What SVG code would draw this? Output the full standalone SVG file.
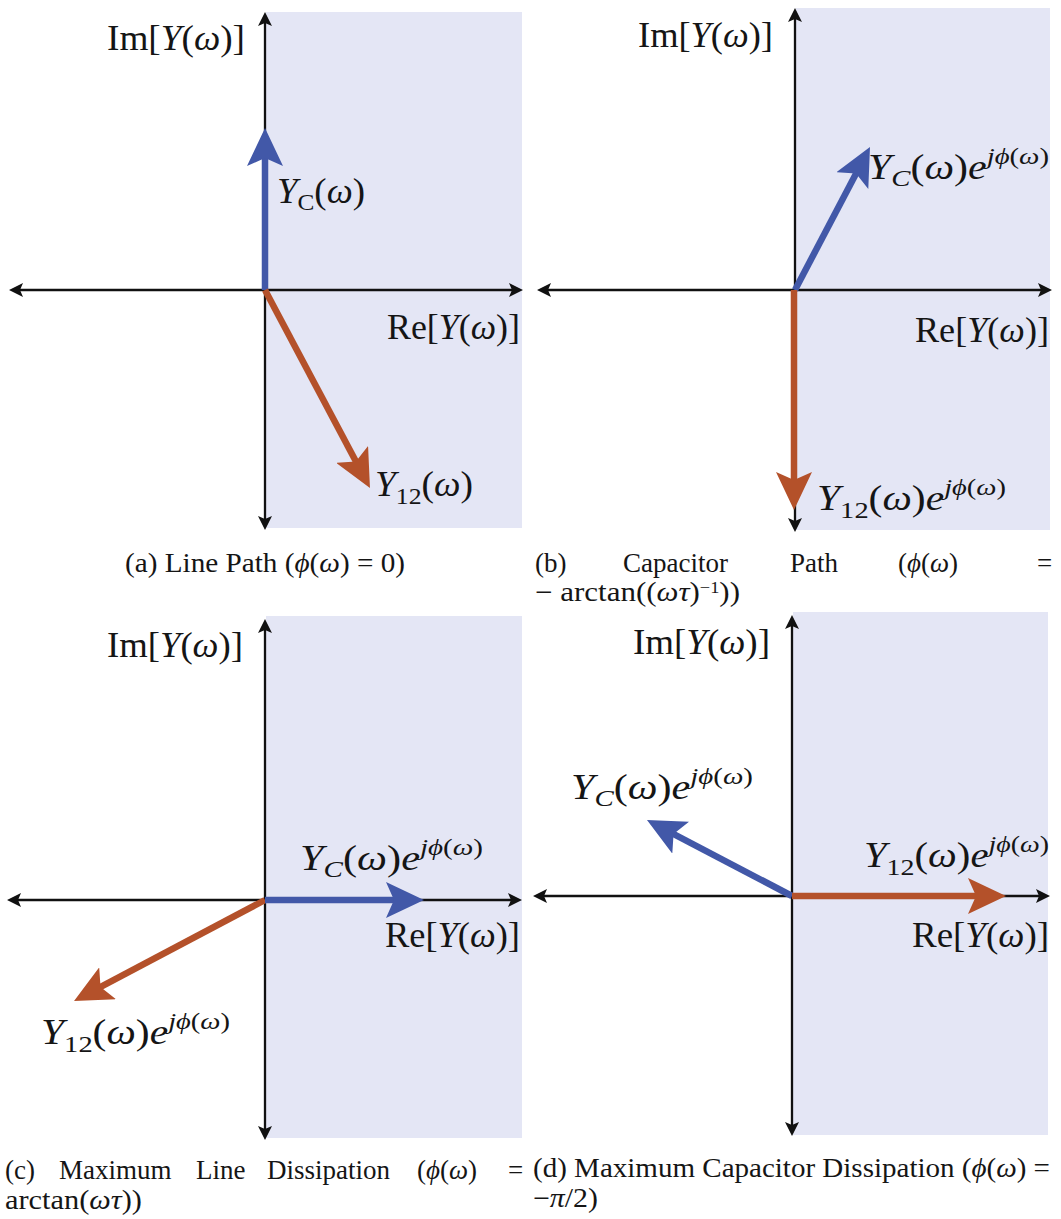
<svg xmlns="http://www.w3.org/2000/svg" width="1061" height="1219" viewBox="0 0 1061 1219">
<style>
.bg{fill:#ffffff}
.shade{fill:#e4e6f5}
.axis{stroke:#111;stroke-width:2.3;fill:none;marker-start:url(#ah);marker-end:url(#ah)}
.vb{stroke:#4258a8;stroke-width:6.5;fill:none;marker-end:url(#hb)}
.vo{stroke:#b4512a;stroke-width:6.5;fill:none;marker-end:url(#ho)}
.t{font-family:'Liberation Serif','Times New Roman',serif;font-size:35px;fill:#151515}
.c{font-family:'Liberation Serif','Times New Roman',serif;font-size:27px;fill:#151515}
.i{font-style:italic}
.s{font-size:24px}
.cs{font-size:16px}
</style>
<defs>
<marker id="ah" markerUnits="userSpaceOnUse" viewBox="0 0 14 14" markerWidth="14" markerHeight="14" refX="7" refY="7" orient="auto-start-reverse">
<path d="M14,7 L0,0 L3,7 L0,14 Z" fill="#111"/>
</marker>
<marker id="hb" markerUnits="userSpaceOnUse" viewBox="0 0 38 36" markerWidth="38" markerHeight="36" refX="18" refY="18" orient="auto">
<path d="M38,18 L0,0 L8,18 L0,36 Z" fill="#4258a8"/>
</marker>
<marker id="ho" markerUnits="userSpaceOnUse" viewBox="0 0 38 36" markerWidth="38" markerHeight="36" refX="18" refY="18" orient="auto">
<path d="M38,18 L0,0 L8,18 L0,36 Z" fill="#b4512a"/>
</marker>
</defs>
<rect class="bg" x="0" y="0" width="1061" height="1219"/>

<!-- Panel (a) -->
<g id="panel-a">
<rect class="shade" x="266" y="12" width="256" height="516"/>
<g id="axes-a">
<line class="axis" x1="265" y1="523" x2="265" y2="19"/>
<line class="axis" x1="516" y1="290" x2="16" y2="290"/>
</g>
<g id="connectors-a">
<line class="vb" x1="265" y1="290" x2="265" y2="148"/>
<line class="vo" x1="265" y1="290" x2="360.6" y2="470.3"/>
</g>
<g id="labels-a">
<text class="t" x="107" y="50" textLength="138" lengthAdjust="spacingAndGlyphs">Im[<tspan class="i">Y</tspan>(<tspan class="i">ω</tspan>)]</text>
<text class="t" x="387" y="339" textLength="133" lengthAdjust="spacingAndGlyphs">Re[<tspan class="i">Y</tspan>(<tspan class="i">ω</tspan>)]</text>
<text class="t" x="277" y="203" textLength="88" lengthAdjust="spacingAndGlyphs"><tspan class="i">Y</tspan><tspan class="s" dy="7">C</tspan><tspan dy="-7">(</tspan><tspan class="i">ω</tspan>)</text>
<text class="t" x="375" y="496" textLength="98" lengthAdjust="spacingAndGlyphs"><tspan class="i">Y</tspan><tspan class="s" dy="8">12</tspan><tspan dy="-8">(</tspan><tspan class="i">ω</tspan>)</text>
</g>
<text class="c" x="125" y="572" textLength="280" lengthAdjust="spacingAndGlyphs">(a) Line Path (<tspan class="i">ϕ</tspan>(<tspan class="i">ω</tspan>) = 0)</text>
</g>

<!-- Panel (b) -->
<g id="panel-b">
<rect class="shade" x="796" y="8" width="254" height="522"/>
<g id="axes-b">
<line class="axis" x1="795" y1="525" x2="795" y2="15"/>
<line class="axis" x1="1045" y1="290" x2="544" y2="290"/>
</g>
<g id="connectors-b">
<line class="vb" x1="795" y1="290" x2="860.7" y2="164.7"/>
<line class="vo" x1="794" y1="290" x2="794" y2="490"/>
</g>
<g id="labels-b">
<text class="t" x="638" y="47" textLength="135" lengthAdjust="spacingAndGlyphs">Im[<tspan class="i">Y</tspan>(<tspan class="i">ω</tspan>)]</text>
<text class="t" x="915" y="342" textLength="134" lengthAdjust="spacingAndGlyphs">Re[<tspan class="i">Y</tspan>(<tspan class="i">ω</tspan>)]</text>
<text class="t" x="868" y="179" textLength="181" lengthAdjust="spacingAndGlyphs"><tspan class="i">Y</tspan><tspan class="s i" dy="7">C</tspan><tspan dy="-7">(</tspan><tspan class="i">ω</tspan>)<tspan class="i">e</tspan><tspan class="s" dy="-15"><tspan class="i">jϕ</tspan>(<tspan class="i">ω</tspan>)</tspan></text>
<text class="t" x="817" y="510" textLength="189" lengthAdjust="spacingAndGlyphs"><tspan class="i">Y</tspan><tspan class="s" dy="8">12</tspan><tspan dy="-8">(</tspan><tspan class="i">ω</tspan>)<tspan class="i">e</tspan><tspan class="s" dy="-15"><tspan class="i">jϕ</tspan>(<tspan class="i">ω</tspan>)</tspan></text>
</g>
<g id="caption-b">
<text class="c" x="535" y="572">(b)</text>
<text class="c" x="623" y="572">Capacitor</text>
<text class="c" x="790" y="572">Path</text>
<text class="c" x="898" y="572">(<tspan class="i">ϕ</tspan>(<tspan class="i">ω</tspan>)</text>
<text class="c" x="1037" y="572">=</text>
<text class="c" x="535" y="601" textLength="205" lengthAdjust="spacingAndGlyphs">− arctan((<tspan class="i">ωτ</tspan>)<tspan class="cs" dy="-8">−1</tspan><tspan dy="8">))</tspan></text>
</g>
</g>

<!-- Panel (c) -->
<g id="panel-c">
<rect class="shade" x="266" y="616" width="256" height="522"/>
<g id="axes-c">
<line class="axis" x1="265" y1="1133" x2="265" y2="626"/>
<line class="axis" x1="515" y1="900" x2="14" y2="900"/>
</g>
<g id="connectors-c">
<line class="vo" x1="265" y1="900" x2="91.7" y2="991.7"/>
<line class="vb" x1="265" y1="900" x2="404" y2="900"/>
</g>
<g id="labels-c">
<text class="t" x="107" y="657" textLength="136" lengthAdjust="spacingAndGlyphs">Im[<tspan class="i">Y</tspan>(<tspan class="i">ω</tspan>)]</text>
<text class="t" x="385" y="947" textLength="135" lengthAdjust="spacingAndGlyphs">Re[<tspan class="i">Y</tspan>(<tspan class="i">ω</tspan>)]</text>
<text class="t" x="300" y="870" textLength="183" lengthAdjust="spacingAndGlyphs"><tspan class="i">Y</tspan><tspan class="s i" dy="7">C</tspan><tspan dy="-7">(</tspan><tspan class="i">ω</tspan>)<tspan class="i">e</tspan><tspan class="s" dy="-15"><tspan class="i">jϕ</tspan>(<tspan class="i">ω</tspan>)</tspan></text>
<text class="t" x="41" y="1044" textLength="189" lengthAdjust="spacingAndGlyphs"><tspan class="i">Y</tspan><tspan class="s" dy="8">12</tspan><tspan dy="-8">(</tspan><tspan class="i">ω</tspan>)<tspan class="i">e</tspan><tspan class="s" dy="-15"><tspan class="i">jϕ</tspan>(<tspan class="i">ω</tspan>)</tspan></text>
</g>
<g id="caption-c">
<text class="c" x="5" y="1179">(c)</text>
<text class="c" x="59" y="1179">Maximum</text>
<text class="c" x="196" y="1179">Line</text>
<text class="c" x="267" y="1179">Dissipation</text>
<text class="c" x="417" y="1179">(<tspan class="i">ϕ</tspan>(<tspan class="i">ω</tspan>)</text>
<text class="c" x="508" y="1179">=</text>
<text class="c" x="5" y="1209" textLength="137" lengthAdjust="spacingAndGlyphs">arctan(<tspan class="i">ωτ</tspan>))</text>
</g>
</g>

<!-- Panel (d) -->
<g id="panel-d">
<rect class="shade" x="793" y="612" width="255" height="523"/>
<g id="axes-d">
<line class="axis" x1="792" y1="1129" x2="792" y2="622"/>
<line class="axis" x1="1043" y1="896" x2="540" y2="896"/>
</g>
<g id="connectors-d">
<line class="vb" x1="792" y1="896" x2="664.7" y2="829.3"/>
<line class="vo" x1="792" y1="896" x2="986" y2="896"/>
</g>
<g id="labels-d">
<text class="t" x="633" y="654" textLength="137" lengthAdjust="spacingAndGlyphs">Im[<tspan class="i">Y</tspan>(<tspan class="i">ω</tspan>)]</text>
<text class="t" x="912" y="947" textLength="137" lengthAdjust="spacingAndGlyphs">Re[<tspan class="i">Y</tspan>(<tspan class="i">ω</tspan>)]</text>
<text class="t" x="571" y="799" textLength="182" lengthAdjust="spacingAndGlyphs"><tspan class="i">Y</tspan><tspan class="s i" dy="7">C</tspan><tspan dy="-7">(</tspan><tspan class="i">ω</tspan>)<tspan class="i">e</tspan><tspan class="s" dy="-15"><tspan class="i">jϕ</tspan>(<tspan class="i">ω</tspan>)</tspan></text>
<text class="t" x="864" y="867" textLength="185" lengthAdjust="spacingAndGlyphs"><tspan class="i">Y</tspan><tspan class="s" dy="8">12</tspan><tspan dy="-8">(</tspan><tspan class="i">ω</tspan>)<tspan class="i">e</tspan><tspan class="s" dy="-15"><tspan class="i">jϕ</tspan>(<tspan class="i">ω</tspan>)</tspan></text>
</g>
<g id="caption-d">
<text class="c" x="533" y="1177" textLength="517" lengthAdjust="spacingAndGlyphs">(d) Maximum Capacitor Dissipation (<tspan class="i">ϕ</tspan>(<tspan class="i">ω</tspan>) =</text>
<text class="c" x="533" y="1207" textLength="65" lengthAdjust="spacingAndGlyphs">−<tspan class="i">π</tspan>/2)</text>
</g>
</g>
</svg>
